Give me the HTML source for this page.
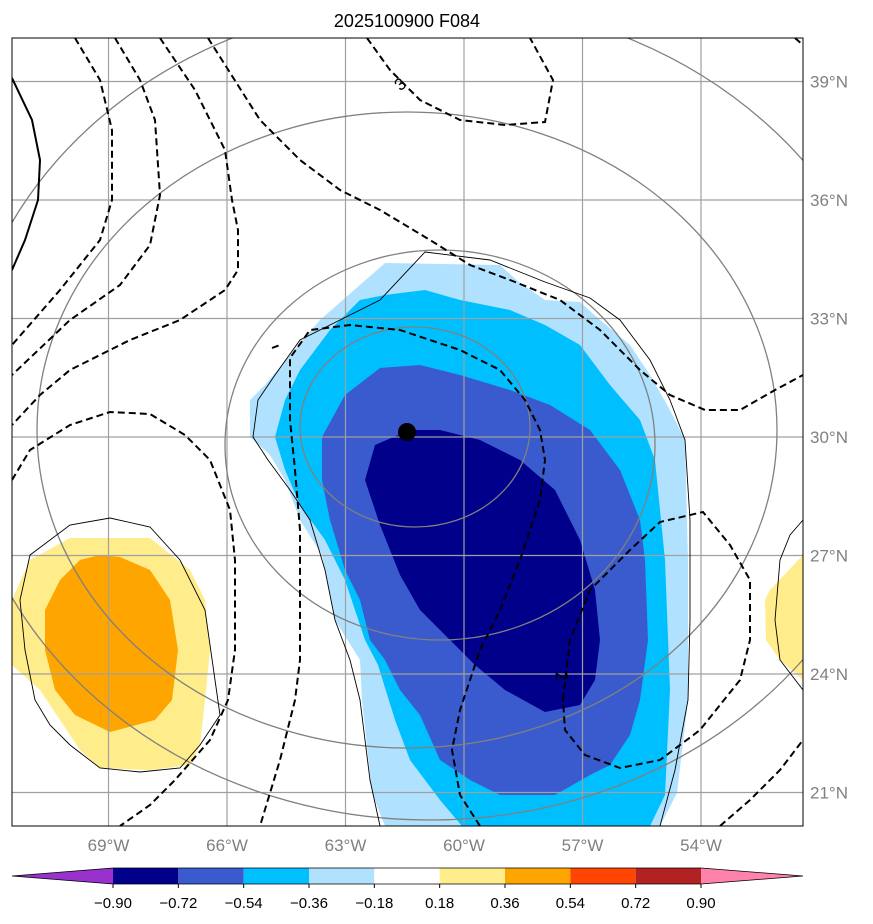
<!DOCTYPE html>
<html><head><meta charset="utf-8"><style>
body{margin:0;background:#fff;}
svg{display:block;font-family:"Liberation Sans","DejaVu Sans",sans-serif;}
</style></head><body>
<svg id="chart" width="873" height="924" viewBox="0 0 873 924" xmlns="http://www.w3.org/2000/svg">
<text x="407" y="27" text-anchor="middle" font-size="18" fill="#000">2025100900 F084</text>
<defs><clipPath id="clip"><rect x="12" y="38" width="791" height="788"/></clipPath></defs>
<g clip-path="url(#clip)">
 <g>
  <polygon fill="#b0e2ff" points="385,263 500,265 520,283 545,300 580,302 600,320 630,345 650,375 670,410 685,440 688,560 688,700 677,793 660,826 385,826 372,793 362,700 360,660 335,620 322,555 300,520 285,480 270,455 250,437 250,400 265,385 290,355 320,320 345,298"/>
  <polygon fill="#00bfff" points="385,295 425,290 460,300 510,310 545,325 580,345 610,385 640,420 655,460 665,560 670,690 665,795 650,826 462,826 440,800 410,760 395,720 378,665 365,640 345,580 325,540 300,505 285,470 275,437 285,400 300,370 330,330 360,300"/>
  <polygon fill="#3a5bcd" points="380,368 420,365 460,375 510,390 550,405 590,430 620,470 640,520 645,560 648,640 640,700 630,735 610,765 590,775 555,795 500,795 470,780 440,760 420,715 400,690 385,660 370,640 360,600 345,570 330,520 322,480 322,437 345,395"/>
  <polygon fill="#00008b" points="410,430 440,430 480,440 520,460 555,490 580,540 595,590 600,640 595,680 580,705 545,712 505,690 475,665 450,640 420,610 400,575 380,525 365,480 375,445"/>
  <polygon fill="#ffec8b" points="30,560 70,538 150,538 190,570 205,600 210,650 205,700 200,745 190,765 150,770 100,768 80,750 60,720 40,690 12,665 12,600"/>
  <polygon fill="#ffa500" points="80,560 100,555 120,557 150,570 170,600 178,650 172,700 155,720 110,732 75,715 55,690 45,650 45,610 60,580"/>
  <polygon fill="#ffec8b" points="803,555 770,590 765,600 766,640 780,660 803,680"/>
 </g>
 <g id="grid"></g>
 <g fill="none" stroke="#808080" stroke-width="1.3">
  <ellipse cx="415" cy="427" rx="115" ry="100"/>
  <ellipse cx="440" cy="445" rx="215" ry="195"/>
  <ellipse cx="407" cy="430" rx="370" ry="318"/>
  <ellipse cx="430" cy="410" rx="470" ry="410"/>
 </g>
 <g fill="none" stroke="#000" stroke-width="0.9">
  <polyline points="380,826 370,780 360,700 350,660 335,620 325,570 310,520 290,490 268,460 253,437 258,400 275,375 300,340 340,320 380,300 425,252 490,260 545,282 590,298 620,320 650,360 670,400 685,440 690,520 690,620 688,700 675,770 660,826"/>
  <polygon points="30,555 70,525 110,518 150,527 180,560 205,610 215,680 220,715 200,745 180,768 140,772 100,768 70,745 50,725 35,700 25,650 20,600"/>
  <polyline points="803,520 790,535 780,560 775,620 780,660 803,690"/>
 </g>
 <g fill="none" stroke="#000" stroke-width="2" stroke-dasharray="7,4">
  <polyline points="75,38 100,80 112,130 112,200 100,240 60,290 12,345"/>
  <polyline points="115,38 140,80 155,120 160,195 150,245 120,285 70,320 12,375"/>
  <polyline points="160,38 195,90 225,150 232,200 238,230 238,270 225,290 180,320 130,340 70,370 40,395 12,425"/>
  <polyline points="208,38 260,120 300,160 340,190 380,210 430,240 470,265 510,280 560,300 600,330 640,370 670,395 705,410 740,410 775,390 803,375"/>
  <polyline points="367,38 390,70 420,100 460,120 505,125 545,122 553,80 530,38"/>
  <polyline points="795,38 803,45"/>
  <polyline points="480,826 460,795 452,750 460,710 480,650 500,610 520,560 540,500 545,460 540,430 525,400 500,370 460,350 400,330 350,325 310,330 290,358 290,420 295,470 300,530 300,600 300,660 295,700 280,760 260,826"/>
  <polyline points="12,480 30,450 70,425 110,412 150,414 185,435 210,460 230,510 235,560 235,650 228,700 210,740 175,780 150,805 120,826"/>
  <polygon points="563,700 570,640 590,590 630,550 660,522 703,512 730,545 750,580 750,640 740,680 700,730 660,760 620,768 585,755 565,730"/>
  <polyline points="720,826 750,800 780,770 803,740"/>
  <polyline points="272,348 280,345"/>
 </g>
 <polyline fill="none" stroke="#000" stroke-width="2" points="12,78 32,120 40,160 38,200 25,240 12,270"/>
 <text x="400" y="90" font-size="17" text-anchor="middle" transform="rotate(-40 400 84)">3</text>
 <text x="562" y="682" font-size="17" text-anchor="middle" transform="rotate(80 562 676)">2</text>
 <circle cx="407" cy="432" r="9" fill="#000"/>
</g>
<rect x="12" y="38" width="791" height="788" fill="none" stroke="#000" stroke-width="1"/>
<g id="axes"></g>
<g id="cbar"></g>
</svg>
<script>
const lonTicks=[-69,-66,-63,-60,-57,-54];
const lonLabels=["69°W","66°W","63°W","60°W","57°W","54°W"];
const latTicks=[39,36,33,30,27,24,21];
const latLabels=["39°N","36°N","33°N","30°N","27°N","24°N","21°N"];
const cbLevels=[-0.90,-0.72,-0.54,-0.36,-0.18,0.18,0.36,0.54,0.72,0.90];
const cbLabels=["\u22120.90","\u22120.72","\u22120.54","\u22120.36","\u22120.18","0.18","0.36","0.54","0.72","0.90"];
const cbColors=["#9932cc","#00008b","#3a5bcd","#00bfff","#b0e2ff","#ffffff","#ffec8b","#ffa500","#ff4500","#b22222","#ff82ab"];
const NS="http://www.w3.org/2000/svg";
function xLon(l){return 464+(l+60)*39.5;}
function yLat(l){return 437-(l-30)*39.5;}
function mk(t,a,p){const e=document.createElementNS(NS,t);for(const k in a)e.setAttribute(k,a[k]);p.appendChild(e);return e;}
const grid=document.getElementById('grid'),axes=document.getElementById('axes'),cb=document.getElementById('cbar');
lonTicks.forEach((l,i)=>{
 const x=xLon(l);
 const g=mk('line',{x1:x,x2:x,y1:38,y2:826,stroke:'#a0a0a0','stroke-width':1.2},grid);
 
 
 const t=mk('text',{x:x,y:851,'text-anchor':'middle','font-size':17,fill:'#808080'},axes);
 t.textContent=lonLabels[i];
 
 
});
latTicks.forEach((l,i)=>{
 const y=yLat(l);
 const g=mk('line',{x1:12,x2:803,y1:y,y2:y,stroke:'#a0a0a0','stroke-width':1.2},grid);
 
 
 const t=mk('text',{x:810,y:y+6,'font-size':17,fill:'#808080'},axes);
 t.textContent=latLabels[i];
 
 
});
const cx0=113,cx1=701,cy0=868,cy1=884,tipL=12,tipR=803;
function cbX(i){return cx0+i/(cbLevels.length-1)*(cx1-cx0);}
const left=mk('polygon',{points:`${tipL},${(cy0+cy1)/2} ${cx0},${cy0} ${cx0},${cy1}`,fill:cbColors[0]},cb);


for(let i=0;i<cbLevels.length-1;i++){
 const a=cbX(i),b=cbX(i+1);
 const r=mk('rect',{x:a,y:cy0,width:b-a,height:cy1-cy0,fill:cbColors[i+1]},cb);
 
 
}
const right=mk('polygon',{points:`${cx1},${cy0} ${tipR},${(cy0+cy1)/2} ${cx1},${cy1}`,fill:cbColors[cbColors.length-1]},cb);


const outline=mk('polygon',{points:`${tipL},${(cy0+cy1)/2} ${cx0},${cy0} ${cx1},${cy0} ${tipR},${(cy0+cy1)/2} ${cx1},${cy1} ${cx0},${cy1}`,fill:'none',stroke:'#000','stroke-width':0.8},cb);


cbLevels.forEach((v,i)=>{
 const x=cbX(i);
 const tk=mk('line',{x1:x,x2:x,y1:cy1,y2:cy1+4,stroke:'#000'},cb);
 
 
 const t=mk('text',{x:x,y:908,'text-anchor':'middle','font-size':15,fill:'#000'},cb);
 t.textContent=cbLabels[i];
 
 
});
</script>
</body></html>
